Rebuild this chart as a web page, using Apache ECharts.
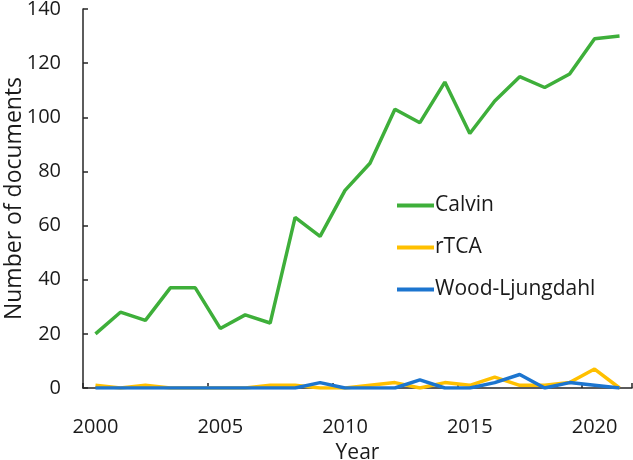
<!DOCTYPE html>
<html>
<head>
<meta charset="utf-8">
<script src="https://cdn.jsdelivr.net/npm/echarts@6/dist/echarts.min.js"></script>
<style>
html,body{margin:0;padding:0;background:#fff;}
#chart{width:633px;height:460px;}
</style>
</head>
<body>
<div id="chart"></div>
<script>
const years = ['2000','2001','2002','2003','2004','2005','2006','2007','2008','2009','2010','2011','2012','2013','2014','2015','2016','2017','2018','2019','2020','2021'];
const calvin = [20,28,25,37,37,22,27,24,63,56,73,83,103,98,113,94,106,115,111,116,129,130];
const rtca = [1,0,1,0,0,0,0,1,1,0,0,1,2,0,2,1,4,1,1,2,7,0];
const woodLjungdahl = [0,0,0,0,0,0,0,0,0,2,0,0,0,3,0,0,2,5,0,2,1,0];
const yTicks = [0,20,40,60,80,100,120,140];

const FONT = 'Open Sans';
const chart = echarts.init(document.getElementById('chart'), null, {renderer:'canvas'});
chart.setOption({
  animation:false,
  backgroundColor:'#ffffff',
  textStyle:{fontFamily:FONT},
  grid:{left:83,right:1,top:9,bottom:72,containLabel:false,outerBoundsMode:'none'},
  legend:{
    left:392, top:190, orient:'vertical', itemGap:21,
    itemWidth:37, itemHeight:4,
    icon:'rect',
    textStyle:{fontFamily:FONT,fontSize:21,color:'#1a1a1a',padding:[0,0,0,-4]},
    data:['Calvin','rTCA','Wood-Ljungdahl']
  },
  xAxis:{
    type:'category', data:years, boundaryGap:true,
    name:'Year', nameLocation:'middle', nameGap:55, nameMoveOverlap:false,
    nameTextStyle:{fontFamily:FONT,fontSize:21,color:'#1a1a1a'},
    axisLine:{lineStyle:{color:'#262626',width:1.5}},
    axisTick:{show:true,inside:true,length:5,interval:4,lineStyle:{color:'#262626',width:1.5}},
    axisLabel:{interval:4,fontFamily:FONT,fontSize:20,color:'#1a1a1a',margin:29},
    splitLine:{show:false}
  },
  yAxis:{
    type:'value', min:0, max:140, interval:20,
    name:'Number of documents', nameLocation:'middle', nameGap:57, nameRotate:90, nameMoveOverlap:false,
    nameTextStyle:{fontFamily:FONT,fontSize:23,color:'#1a1a1a'},
    axisLine:{show:true,lineStyle:{color:'#262626',width:1.5}},
    axisTick:{show:true,inside:true,length:5,lineStyle:{color:'#262626',width:1.5}},
    axisLabel:{fontFamily:FONT,fontSize:20,color:'#1a1a1a',margin:22,
      formatter:function(v){return yTicks.indexOf(v)>=0?String(v):'';}},
    splitLine:{show:false}
  },
  series:[
    {name:'Calvin',type:'line',data:calvin,symbol:'none',lineStyle:{color:'#3EAF3A',width:3.5},itemStyle:{color:'#3EAF3A'},z:3},
    {name:'rTCA',type:'line',data:rtca,symbol:'none',lineStyle:{color:'#FFC000',width:3.5},itemStyle:{color:'#FFC000'},z:4},
    {name:'Wood-Ljungdahl',type:'line',data:woodLjungdahl,symbol:'none',lineStyle:{color:'#1C75CF',width:3.5},itemStyle:{color:'#1C75CF'},z:5}
  ]
});
</script>
</body>
</html>
